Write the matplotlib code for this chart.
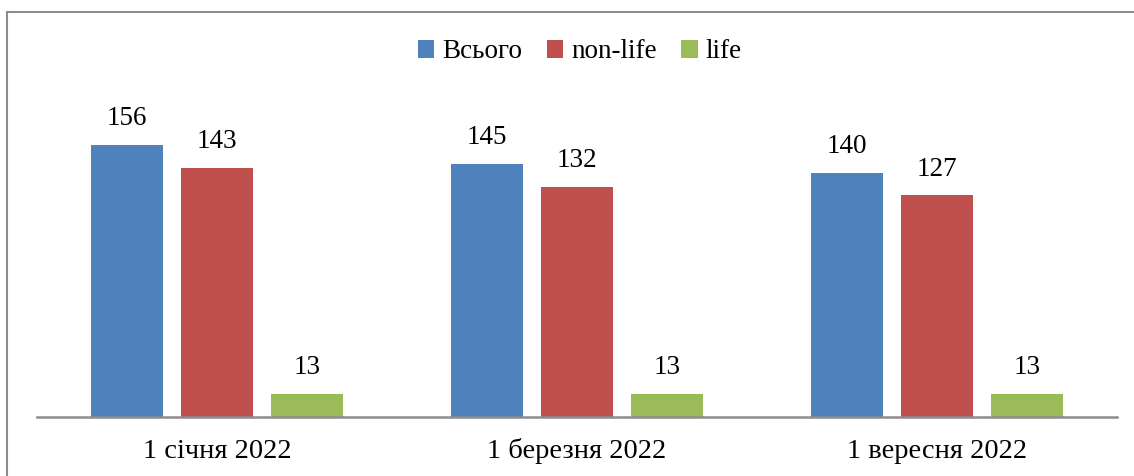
import matplotlib.pyplot as plt
import numpy as np
from matplotlib.patches import Rectangle

categories = ["1 січня 2022", "1 березня 2022", "1 вересня 2022"]
series_names = ["Всього", "non-life", "life"]
total = [156, 145, 140]
non_life = [143, 132, 127]
life = [13, 13, 13]
colors = ["#4F81BD", "#C0504D", "#9BBB59"]

plt.rcParams['font.family'] = ['Liberation Serif', 'DejaVu Serif']

W, H = 1134, 476
fig = plt.figure(figsize=(W / 100, H / 100), dpi=100)

# frame around the chart area
fig.patches.append(Rectangle((7 / W, -0.1), 1.2, 1 - 12 / H + 0.1,
                             transform=fig.transFigure, fill=False,
                             edgecolor="#8c8c8c", linewidth=1.5))

ax = fig.add_axes([37 / W, (H - 417) / H, 1080 / W, (417 - 103) / H])

x = np.arange(len(categories))
width = 0.2
offsets = [-0.25, 0.0, 0.25]
for vals, name, off, col in zip([total, non_life, life], series_names, offsets, colors):
    bars = ax.bar(x + off, vals, width, color=col, label=name)
    for b, v in zip(bars, vals):
        ax.annotate(f"{v}", (b.get_x() + b.get_width() / 2, v),
                    xytext=(0, 10), textcoords="offset points",
                    ha="center", va="bottom", fontsize=19.5)

ax.set_xlim(-0.5, 2.5)
ax.set_ylim(0, 180)
ax.set_xticks(x)
ax.set_xticklabels(categories, fontsize=20.5)
for lab in ax.get_xticklabels():
    lab.set_va("center")
ax.tick_params(axis="x", length=0, pad=24.5)
ax.set_yticks([])
for s in ["top", "right", "left"]:
    ax.spines[s].set_visible(False)
ax.spines["bottom"].set_color("#8c8c8c")
ax.spines["bottom"].set_linewidth(1.8)

fig.legend(loc="center", bbox_to_anchor=(580 / W, 1 - 52 / H), ncol=3,
           frameon=False, fontsize=19.5, handlelength=0.6, handleheight=0.6,
           handletextpad=0.3, columnspacing=0.9)

fig.savefig("out.png", dpi=100)
